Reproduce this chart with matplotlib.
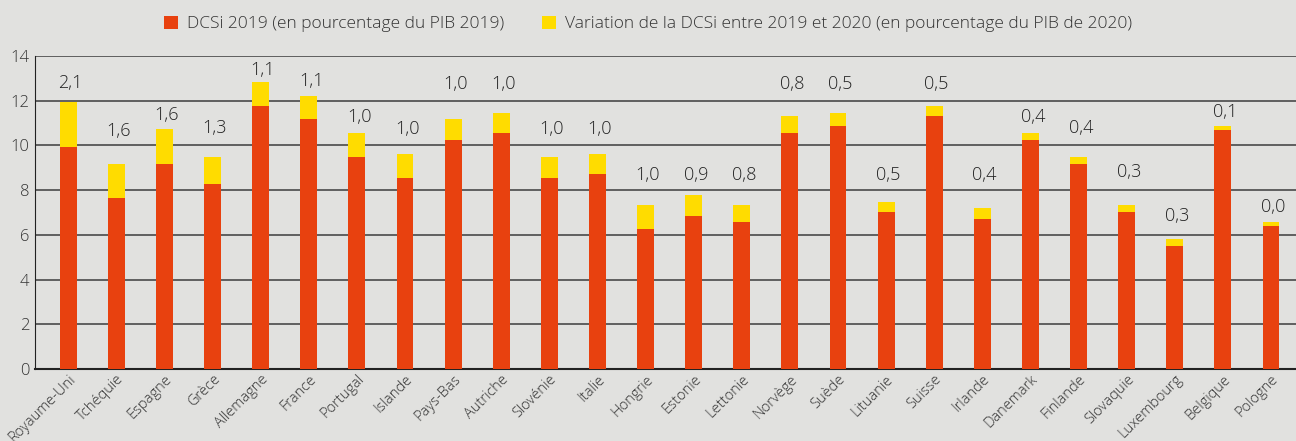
import matplotlib.pyplot as plt
import numpy as np

plt.rcParams['font.family'] = ['Open Sans', 'DejaVu Sans']
plt.rcParams['font.weight'] = 'light'

pays = ['Royaume-Uni', 'Tchéquie', 'Espagne', 'Grèce', 'Allemagne', 'France',
        'Portugal', 'Islande', 'Pays-Bas', 'Autriche', 'Slovénie', 'Italie',
        'Hongrie', 'Estonie', 'Lettonie', 'Norvège', 'Suède', 'Lituanie',
        'Suisse', 'Irlande', 'Danemark', 'Finlande', 'Slovaquie', 'Luxembourg',
        'Belgique', 'Pologne']
dcsi_2019 = [9.93, 7.65, 9.17, 8.27, 11.76, 11.18, 9.48, 8.54, 10.24, 10.55,
             8.54, 8.72, 6.26, 6.84, 6.57, 10.55, 10.87, 7.02, 11.31, 6.71,
             10.24, 9.17, 7.02, 5.50, 10.69, 6.40]
total_2020 = [11.94, 9.17, 10.73, 9.48, 12.84, 12.21, 10.55, 9.62, 11.18, 11.45,
              9.48, 9.62, 7.33, 7.78, 7.33, 11.31, 11.45, 7.47, 11.76, 7.20,
              10.55, 9.48, 7.33, 5.81, 10.87, 6.57]
variation_lbl = ['2,1', '1,6', '1,6', '1,3', '1,1', '1,1', '1,0', '1,0', '1,0',
                 '1,0', '1,0', '1,0', '1,0', '0,9', '0,8', '0,8', '0,5', '0,5',
                 '0,5', '0,4', '0,4', '0,4', '0,3', '0,3', '0,1', '0,0']
# hauteur des etiquettes (mise en page)
lbl_y = [12.79, 10.64, 11.36, 10.78, 13.37, 12.88, 11.27, 10.73, 12.75, 12.75,
         10.73, 10.73, 8.68, 8.68, 8.68, 12.75, 12.75, 8.68, 12.75, 8.68,
         11.27, 10.78, 8.81, 6.84, 11.49, 7.24]

rouge = '#e8410f'
jaune = '#ffdc00'
fond = '#e1e1df'

x = np.arange(len(pays))
base = np.array(dcsi_2019)
haut = np.array(total_2020) - base

fig = plt.figure(figsize=(12.96, 4.41), dpi=100, facecolor=fond)
ax = fig.add_axes([0.027, 0.163, 0.973, 0.71], facecolor=fond)

ax.bar(x, base, width=0.35, color=rouge, zorder=3,
       label='DCSi 2019 (en pourcentage du PIB 2019)')
ax.bar(x, haut, bottom=base, width=0.35, color=jaune, zorder=3,
       label='Variation de la DCSi entre 2019 et 2020 (en pourcentage du PIB de 2020)')

for xi, t, yl in zip(x, variation_lbl, lbl_y):
    ax.text(xi + 0.05, yl, t, ha='center', va='center', fontsize=13, color='#222222')

ax.set_xlim(-0.69, len(pays) - 1 + 0.52)
ax.set_ylim(0, 14)
ax.set_yticks(range(0, 15, 2))
ax.yaxis.grid(True, color='#555555', linewidth=1.3, zorder=0)
ax.set_axisbelow(True)
for s in ['top', 'right']:
    ax.spines[s].set_visible(False)
ax.spines['left'].set_color('#222222')
ax.spines['bottom'].set_color('#222222')
ax.spines['bottom'].set_linewidth(1.5)
ax.tick_params(axis='y', length=0, labelsize=12, labelcolor='#333333', pad=4)
ax.tick_params(axis='x', length=0, labelsize=10.5, labelcolor='#333333', pad=2)
ax.set_xticks(x)
ax.set_xticklabels(pays, rotation=45, ha='right', rotation_mode='anchor')

fig.legend(loc='upper center', bbox_to_anchor=(0.5, 1.0), ncol=2, frameon=False,
           fontsize=12.5, handlelength=0.8, handleheight=0.8, columnspacing=2.2,
           handletextpad=0.5, labelcolor='#333333')

plt.savefig('out.png', dpi=100, facecolor=fond)
